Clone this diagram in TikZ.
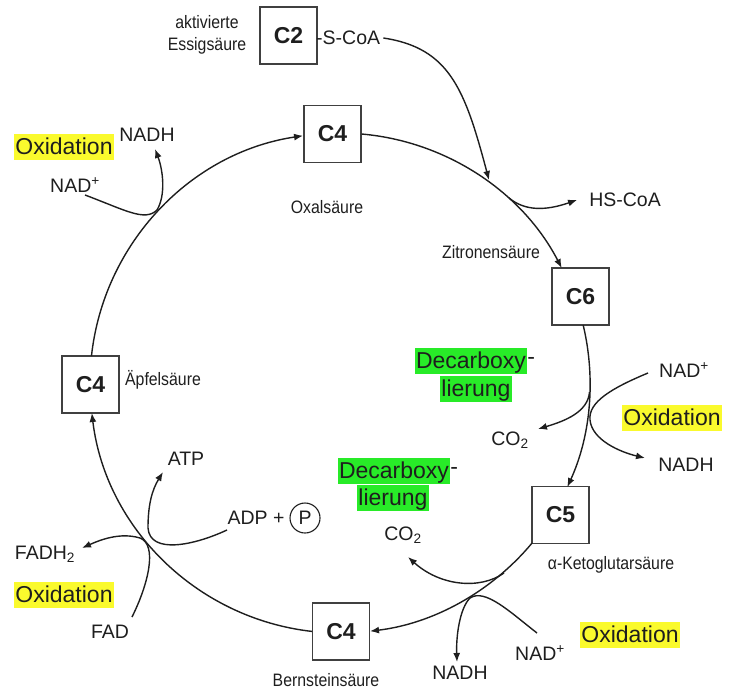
\documentclass[tikz,border=0pt]{standalone}
\usepackage{fontspec}
\setmainfont{Liberation Sans}
\newfontfamily\narrowlab[FakeStretch=0.88]{Liberation Sans}
\usetikzlibrary{arrows.meta}
\definecolor{hlyellow}{RGB}{250,250,45}
\definecolor{hlgreen}{RGB}{40,235,40}
\definecolor{ink}{RGB}{30,30,30}
\begin{document}
\begin{tikzpicture}[x=1pt,y=1pt,
  cbox/.style={draw=ink!85, line width=1.1pt, fill=white, minimum width=57pt, minimum height=57pt, inner sep=0pt, font=\fontsize{23}{26}\selectfont\bfseries, text=ink},
  big/.style={font=\fontsize{23}{26}\selectfont, inner sep=0pt, text=ink},
  mid/.style={font=\fontsize{19.5}{22}\selectfont, inner sep=0pt, text=ink},
  small/.style={font=\narrowlab\fontsize{18}{22}\selectfont, inner sep=0pt, text=ink, align=center},
  ox/.style={big, fill=hlyellow, inner xsep=1pt, text height=20pt, text depth=6pt},
  dec/.style={big, fill=hlgreen, inner xsep=1pt, text height=20pt, text depth=6pt},
  cyc/.style={line width=1.4pt, draw=ink, -{Latex[length=9pt,width=7pt]}},
  rx/.style={line width=1.4pt, draw=ink, -{Latex[length=9pt,width=7pt]}},
]
\useasboundingbox (0,0) rectangle (730,-693);

% boxes
\node[cbox] (c2)  at (288.5,-35.5) {C2};
\node[cbox] (c4t) at (332.5,-134) {C4};
\node[cbox] (c6)  at (580.5,-296.5) {C6};
\node[cbox] (c5)  at (560.5,-515) {C5};
\node[cbox] (c4b) at (341,-631.5) {C4};
\node[cbox] (c4l) at (90.5,-384.5) {C4};

% labels of acids
\node[small] (akt) at (207,-35) {aktivierte\\Essigsäure};
\node[mid, anchor=west] (scoa) at (316,-38) {-S-CoA};
\node[small] (oxal) at (327,-207) {Oxalsäure};
\node[small] (zitr) at (491,-252) {Zitronensäure};
\node[small] (keto) at (611,-565) {α-Ketoglutarsäure};
\node[small] (bern) at (326,-680) {Bernsteinsäure};
\node[small] (apf)  at (163,-380) {Äpfelsäure};

% cycle (circle centre O, radius 250)
\coordinate (O) at (340,-383);
\draw[cyc] (c4t.east) arc[start angle=85, end angle=27.4, radius=250];
\draw[cyc] ([shift={(13.4:250)}]O) arc[start angle=13.4, end angle=-24.6, radius=250];
\draw[cyc] ([shift={(-39.8:250)}]O) arc[start angle=-39.8, end angle=-83.1, radius=250];
\draw[cyc] ([shift={(-96.4:250)}]O) arc[start angle=-96.4, end angle=-173.1, radius=250];
\draw[cyc] ([shift={(173.8:250)}]O) arc[start angle=173.8, end angle=98.5, radius=250];

% acetyl-CoA entry and HS-CoA
\node[mid] (hscoa) at (625,-200) {HS-CoA};
\coordinate (accj) at (489,-180);
\draw[rx] ([xshift=3pt]scoa.east) .. controls (450,-48) and (465,-90) .. (accj);
\coordinate (hsj) at (509,-198);
\draw[rx] (hsj) .. controls (525,-211) and (545,-211) .. ([xshift=-12pt]hscoa.west);

% top-left oxidation
\node[ox] (oxA) at (64,-147) {Oxidation};
\node[mid] (nadhA) at (147,-135) {NADH};
\node[mid] (nadA) at (75,-185) {NAD\textsuperscript{+}};
\coordinate (nA1) at (85,-195);
\coordinate (nA2) at (155,-149);
\draw[rx] (nA1) .. controls (125,-210) and (145,-222) .. (157,-210) .. controls (166,-195) and (163,-170) .. (nA2);

% upper right: decarboxylation + oxidation
\node[dec] (decA) at (471,-361) {Decarboxy};
\node[big, anchor=west] (decAd) at (decA.east) {-};
\node[dec] (decA2) at (476,-389) {lierung};
\node[mid] (co2A) at (510,-440) {CO\textsubscript{2}};
\node[mid] (nadB) at (684,-370) {NAD\textsuperscript{+}};
\node[ox] (oxB) at (672,-418) {Oxidation};
\node[mid] (nadhB) at (686,-465) {NADH};
\coordinate (cA1) at (589.5,-392);
\coordinate (cA2) at (538,-429);
\draw[rx] (cA1) .. controls (588,-412) and (565,-421) .. (cA2);
\coordinate (nB1) at (648,-373);
\coordinate (nB2) at (645,-458);
\draw[rx] (nB1) .. controls (612,-388) and (588,-402) .. (590,-420) .. controls (592,-440) and (620,-452) .. (nB2);

% lower: decarboxylation + oxidation
\node[dec] (decB) at (394,-471) {Decarboxy};
\node[big, anchor=west] (decBd) at (decB.east) {-};
\node[dec] (decB2) at (393,-498) {lierung};
\node[mid] (co2B) at (403,-535) {CO\textsubscript{2}};
\coordinate (cB1) at (504,-573);
\coordinate (cB2) at (408,-557);
\draw[rx] (cB1) .. controls (480,-590) and (440,-586) .. (cB2);
\node[ox] (oxC) at (630,-635) {Oxidation};
\node[mid] (nadC) at (540,-653) {NAD\textsuperscript{+}};
\node[mid] (nadhC) at (460,-673) {NADH};
\coordinate (nC1) at (537,-633);
\coordinate (nC2) at (457,-662);
\draw[rx] (nC1) .. controls (510,-612) and (485,-588) .. (470,-598) .. controls (460,-608) and (456,-635) .. (nC2);

% left: ATP and FAD
\node[mid] (atp) at (186,-459) {ATP};
\node[mid] (adp) at (256,-518) {ADP +};
\node[mid, draw=ink, circle, line width=1.1pt, minimum size=30pt, inner sep=0pt] (pc) at (305,-518) {P};
\coordinate (aD1) at (227,-530);
\coordinate (aD2) at (163,-472);
\draw[rx] (aD1) .. controls (195,-545) and (150,-555) .. (148,-528) .. controls (148,-505) and (152,-490) .. (aD2);
\node[mid] (fadh) at (45,-554) {FADH\textsubscript{2}};
\node[ox] (oxD) at (64,-595) {Oxidation};
\node[mid] (fad) at (110,-632) {FAD};
\coordinate (fD1) at (132,-617);
\coordinate (fD2) at (82,-548);
\draw[rx] (fD1) .. controls (148,-585) and (158,-545) .. (140,-538) .. controls (120,-532) and (100,-540) .. (fD2);
\end{tikzpicture}
\end{document}
